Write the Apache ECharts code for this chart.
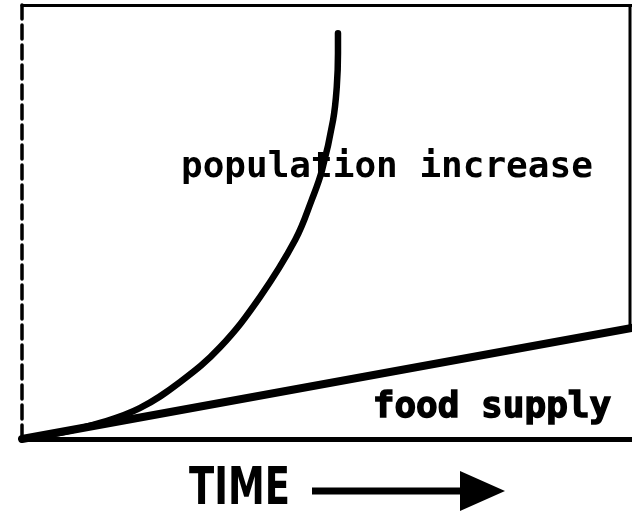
<!DOCTYPE html>
<html><head><meta charset="utf-8">
<style>html,body{margin:0;padding:0;background:#fff}#c{width:632px;height:513px}</style>
<script src="https://cdn.jsdelivr.net/npm/echarts@6/dist/echarts.min.js"></script>
</head><body><div id="c"></div>
<script>
var popX = [0, 6.2, 12.8, 19.3, 25.9, 32.5, 39, 44.8, 47.5, 49.2, 51, 51.6, 51.8, 51.8];
var popY = [0, 1.4, 3.7, 7.1, 13.1, 21.2, 32.7, 45.9, 55.1, 62, 73.5, 81.1, 88.9, 93.5];
var foodX = [0, 100];
var foodY = [0, 25.6];
var popLabel = 'population increase';
var foodLabel = 'food supply';
var axisLabel = 'TIME';

var chart = echarts.init(document.getElementById('c'));
var ink = '#000';
chart.setOption({
  animation: false,
  backgroundColor: '#fff',
  grid: {left: 22, right: 0, top: 5, bottom: 74},
  xAxis: [
    {type: 'value', min: 0, max: 100, axisLine: {show: true, lineStyle: {color: ink, width: 5}},
     axisTick: {show: false}, axisLabel: {show: false}, splitLine: {show: false}},
    {type: 'value', position: 'top', min: 0, max: 100, axisLine: {show: true, lineStyle: {color: ink, width: 3}},
     axisTick: {show: false}, axisLabel: {show: false}, splitLine: {show: false}}
  ],
  yAxis: [
    {type: 'value', min: 0, max: 100, axisLine: {show: true, lineStyle: {color: ink, width: 3.5, type: [14, 6]}},
     axisTick: {show: false}, axisLabel: {show: false}, splitLine: {show: false}}
  ],
  series: [
    {type: 'line', smooth: 0.4, symbol: 'none', lineStyle: {color: ink, width: 6.5, cap: 'round', join: 'round'},
     data: popX.map(function (x, i) { return [x, popY[i]]; })},
    {type: 'line', symbol: 'none', lineStyle: {color: ink, width: 8, cap: 'round'},
     data: foodX.map(function (x, i) { return [x, foodY[i]]; })}
  ],
  graphic: [
    {type: 'line', shape: {x1: 630, y1: 4, x2: 630, y2: 328}, style: {stroke: ink, lineWidth: 3}},
    {type: 'text', left: 181, top: 150, style: {text: popLabel, font: 'bold 36px "DejaVu Sans Mono"', fill: ink}},
    {type: 'text', left: 372, top: 389, style: {text: foodLabel, font: 'bold 36px "DejaVu Sans Mono"', fill: ink, stroke: ink, lineWidth: 1.5}},
    {type: 'text', x: 189, y: 465, scaleX: 1.08, scaleY: 1.35, style: {text: axisLabel, font: 'bold 38px "DejaVu Sans Condensed"', fill: ink}},
    {type: 'line', shape: {x1: 312, y1: 491, x2: 466, y2: 491}, style: {stroke: ink, lineWidth: 7}},
    {type: 'polygon', shape: {points: [[460, 471], [505, 491], [460, 511]]}, style: {fill: ink}}
  ]
});
</script></body></html>
